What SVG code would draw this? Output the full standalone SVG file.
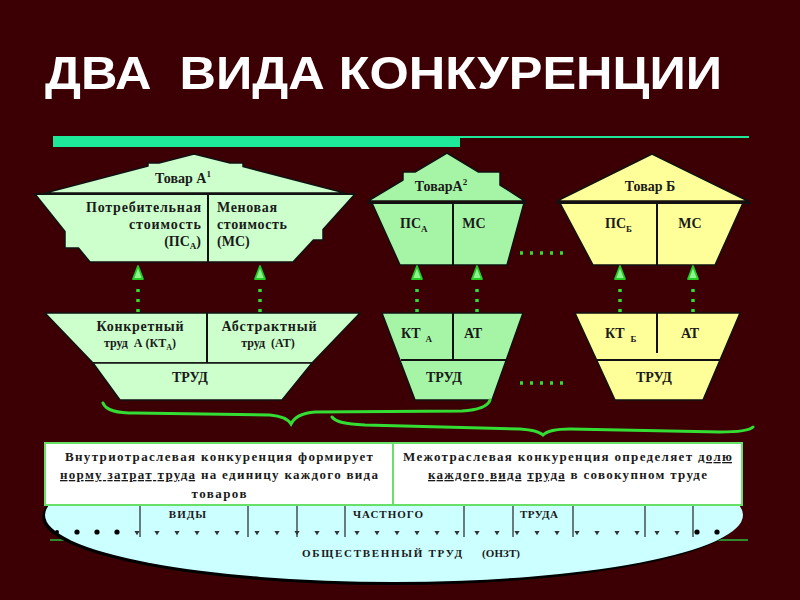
<svg xmlns="http://www.w3.org/2000/svg" xmlns:xlink="http://www.w3.org/1999/xlink" width="800" height="600" viewBox="0 0 800 600">
<style>
.t{font-family:"Liberation Serif","Times New Roman",serif;font-weight:bold;fill:#1a1a1a}
.s14{font-size:14px}.s13{font-size:13px}.s12{font-size:12px}.s11{font-size:11px}
.edge{stroke:#111;stroke-width:1.5;stroke-linejoin:round}
.g1{fill:#ccffcc}.g2{fill:#a6f5a6}.y1{fill:#ffff99}
.div{stroke:#111;stroke-width:2}
.dot{stroke:#33dd33;stroke-width:3.5;stroke-dasharray:3 7;fill:none}
.brace{stroke:#33dd33;stroke-width:3;fill:none;stroke-linecap:round}
.box{fill:#ffffff;stroke:#66e066;stroke-width:2}
.tick{stroke:#4d5b5b;stroke-width:1.6}
</style>
<defs>
<path id="ah" d="M-2.6,-2 L2.6,-2 L0,2.2 Z" fill="#333"/>
<path id="arr" d="M0,0 L5,13 L-5,13 Z" fill="#8ef58e" stroke="#22cc22" stroke-width="1.8" stroke-linejoin="round"/>
</defs>
<rect width="800" height="600" fill="#3c0004"/>

<g id="title">
<text x="45" y="89" font-family="Liberation Sans, Arial, sans-serif" font-weight="bold" font-size="46" fill="#ffffff" textLength="677" lengthAdjust="spacingAndGlyphs" xml:space="preserve">ДВА  ВИДА КОНКУРЕНЦИИ</text>
<rect x="53" y="136" width="407" height="11" fill="#1ee89a"/>
<line x1="460" y1="137" x2="749" y2="137" stroke="#1ee89a" stroke-width="2"/>
</g>

<g id="line-under-ellipse">
<line x1="50" y1="540" x2="748" y2="540" stroke="#2e8b2e" stroke-width="2"/>
</g>

<g id="node-tovarA1">
<polygon class="g1 edge" points="45,193 148,166 148,163 159,163 194,154 230,163 243,163 243,166.5 345,193"/>
<polygon class="g1 edge" points="35,194 355,194 323,229.6 323,240 313.4,240 293,262 90,262 78.5,248 65,248 65,231.5"/>
<line x1="35" y1="194" x2="355" y2="194" class="div"/>
<line x1="208" y1="194" x2="208" y2="262" class="div"/>
<text class="t s14" x="183" y="183" text-anchor="middle">Товар А<tspan font-size="9" dy="-6">1</tspan></text>
<text class="t s14" x="201" y="212" text-anchor="end" textLength="115">Потребительная</text>
<text class="t s14" x="201" y="229" text-anchor="end" textLength="72">стоимость</text>
<text class="t s14" x="201" y="246" text-anchor="end">(ПС<tspan font-size="9" dy="3">А</tspan><tspan dy="-3">)</tspan></text>
<text class="t s14" x="217" y="212" textLength="60">Меновая</text>
<text class="t s14" x="217" y="229" textLength="70">стоимость</text>
<text class="t s14" x="217" y="246">(МС)</text>
</g>

<g id="node-tovarA2">
<polygon class="g2 edge" points="368,201 403,180 403,172 415,172 447,153 478.5,172 500,172 500,185 525,201"/>
<polygon class="g2 edge" points="372,203 524,203 507,265 400,265"/>
<line x1="368" y1="203" x2="526" y2="203" class="div"/>
<line x1="453" y1="203" x2="453" y2="265" class="div"/>
<text class="t s14" x="441" y="191" text-anchor="middle">ТоварА<tspan font-size="9" dy="-6">2</tspan></text>
<text class="t s14" x="400" y="228">ПС<tspan font-size="9" dy="4">А</tspan></text>
<text class="t s14" x="474" y="228" text-anchor="middle">МС</text>
</g>

<g id="node-tovarB">
<polygon class="y1 edge" points="557,201 652,154 748,201"/>
<polygon class="y1 edge" points="560,203 743,203 715,265 593,265"/>
<line x1="557" y1="203" x2="752" y2="203" class="div"/>
<line x1="657" y1="203" x2="657" y2="265" class="div"/>
<text class="t s14" x="650" y="191" text-anchor="middle">Товар Б</text>
<text class="t s14" x="605" y="228">ПС<tspan font-size="9" dy="4">Б</tspan></text>
<text class="t s14" x="690" y="228" text-anchor="middle">МС</text>
</g>

<g id="node-trudA1">
<polygon class="g1 edge" points="45,313 360,313 312,363 93,363"/>
<polygon class="g1 edge" points="93,363 312,363 282,400 120,400"/>
<line x1="207" y1="313" x2="207" y2="363" class="div"/>
<text class="t s14" x="140" y="331" text-anchor="middle" textLength="87">Конкретный</text>
<text class="t s12" x="140" y="347" text-anchor="middle" xml:space="preserve">труд  А (КТ<tspan font-size="8" dy="3">А</tspan><tspan dy="-3">)</tspan></text>
<text class="t s14" x="269" y="331" text-anchor="middle" textLength="95">Абстрактный</text>
<text class="t s12" x="268" y="347" text-anchor="middle" xml:space="preserve">труд  (АТ)</text>
<text class="t s14" x="190" y="382" text-anchor="middle">ТРУД</text>
</g>

<g id="node-trudA2">
<polygon class="g2 edge" points="382,313 523,313 492,400 415,400"/>
<line x1="401" y1="360" x2="506" y2="360" class="div"/>
<line x1="453" y1="313" x2="453" y2="360" class="div"/>
<text class="t s14" x="401" y="338">КТ<tspan font-size="9" dx="5" dy="4">А</tspan></text>
<text class="t s14" x="473" y="338" text-anchor="middle">АТ</text>
<text class="t s14" x="444" y="382" text-anchor="middle">ТРУД</text>
</g>

<g id="node-trudB">
<polygon class="y1 edge" points="575,313 740,313 703,400 615,400"/>
<line x1="597" y1="360" x2="720" y2="360" class="div"/>
<line x1="657" y1="313" x2="657" y2="353" class="div"/>
<text class="t s14" x="605" y="338">КТ<tspan font-size="9" dx="6" dy="4">Б</tspan></text>
<text class="t s14" x="690" y="338" text-anchor="middle">АТ</text>
<text class="t s14" x="654" y="382" text-anchor="middle">ТРУД</text>
</g>

<g id="connectors">
<line class="dot" x1="138" y1="312" x2="138" y2="282"/>
<use xlink:href="#arr" x="138" y="266"/>
<line class="dot" x1="260" y1="312" x2="260" y2="282"/>
<use xlink:href="#arr" x="260" y="266"/>
<line class="dot" x1="417" y1="312" x2="417" y2="282"/>
<use xlink:href="#arr" x="417" y="266"/>
<line class="dot" x1="477" y1="312" x2="477" y2="282"/>
<use xlink:href="#arr" x="477" y="266"/>
<line class="dot" x1="620" y1="312" x2="620" y2="282"/>
<use xlink:href="#arr" x="620" y="266"/>
<line class="dot" x1="693" y1="312" x2="693" y2="282"/>
<use xlink:href="#arr" x="693" y="266"/>
<line class="dot" x1="520" y1="253" x2="566" y2="253" stroke-width="3.5"/>
<line class="dot" x1="520" y1="383" x2="566" y2="383" stroke-width="3.5"/>
<path class="brace" d="M103,403 C106,411 118,413 135,413 L270,415 C282,416 288,419 291,424 C294,418 300,413 315,412 L462,411 C478,410 488,406 490,400"/>
<path class="brace" d="M332,417 C336,422 345,424 365,425 L520,429 C533,430 540,432 543,435 C547,431 555,429 570,429 L720,432 C740,432 750,430 753,427"/>
</g>

<g id="ellipse-trud">
<ellipse cx="391" cy="517" rx="349" ry="68" fill="#000"/>
<ellipse cx="394" cy="515" rx="349" ry="67" fill="#ccffff"/>
<g class="tick">
<line x1="140" y1="505" x2="140" y2="537"/>
<line x1="248" y1="505" x2="248" y2="537"/>
<line x1="297" y1="505" x2="297" y2="537"/>
<line x1="345" y1="505" x2="345" y2="537"/>
<line x1="464" y1="505" x2="464" y2="537"/>
<line x1="513" y1="505" x2="513" y2="537"/>
<line x1="573" y1="505" x2="573" y2="537"/>
<line x1="645" y1="505" x2="645" y2="537"/>
<line x1="693" y1="505" x2="693" y2="537"/>
</g>
<g>
<use xlink:href="#ah" x="137" y="533"/><use xlink:href="#ah" x="157" y="533"/><use xlink:href="#ah" x="177" y="533"/><use xlink:href="#ah" x="197" y="533"/>
<use xlink:href="#ah" x="217" y="533"/><use xlink:href="#ah" x="237" y="533"/><use xlink:href="#ah" x="257" y="533"/><use xlink:href="#ah" x="277" y="533"/>
<use xlink:href="#ah" x="297" y="533"/><use xlink:href="#ah" x="317" y="533"/><use xlink:href="#ah" x="337" y="533"/><use xlink:href="#ah" x="357" y="533"/>
<use xlink:href="#ah" x="377" y="533"/><use xlink:href="#ah" x="397" y="533"/><use xlink:href="#ah" x="417" y="533"/><use xlink:href="#ah" x="437" y="533"/>
<use xlink:href="#ah" x="457" y="533"/><use xlink:href="#ah" x="477" y="533"/><use xlink:href="#ah" x="497" y="533"/><use xlink:href="#ah" x="517" y="533"/>
<use xlink:href="#ah" x="537" y="533"/><use xlink:href="#ah" x="557" y="533"/><use xlink:href="#ah" x="577" y="533"/><use xlink:href="#ah" x="597" y="533"/>
<use xlink:href="#ah" x="617" y="533"/><use xlink:href="#ah" x="637" y="533"/><use xlink:href="#ah" x="657" y="533"/><use xlink:href="#ah" x="677" y="533"/>
</g>
<g fill="#000">
<circle cx="57" cy="532" r="2"/><circle cx="77" cy="532" r="2.6"/><circle cx="97" cy="532" r="2.6"/><circle cx="117" cy="532" r="2.6"/>
<circle cx="697" cy="532" r="2.6"/><circle cx="717" cy="532" r="2.6"/>
</g>
<text class="t s11" x="188" y="518" text-anchor="middle" letter-spacing="1">ВИДЫ</text>
<text class="t s11" x="388" y="518" text-anchor="middle" textLength="70">ЧАСТНОГО</text>
<text class="t s11" x="539" y="518" text-anchor="middle" textLength="38">ТРУДА</text>
<text class="t s11" x="302" y="557" textLength="160">ОБЩЕСТВЕННЫЙ ТРУД</text>
<text class="t s11" x="482" y="557" textLength="38">(ОНЗТ)</text>
</g>

<g id="box-intra">
<rect class="box" x="45" y="443" width="348" height="62"/>
<text class="t s13" x="65" y="461" textLength="308">Внутриотраслевая конкуренция формирует</text>
<text class="t s13" x="60" y="479" textLength="318"><tspan text-decoration="underline">норму затрат труда</tspan> на единицу каждого вида</text>
<text class="t s13" x="219" y="498" text-anchor="middle" textLength="55">товаров</text>
</g>

<g id="box-inter">
<rect class="box" x="393" y="443" width="349" height="62"/>
<text class="t s13" x="403" y="461" textLength="329">Межотраслевая конкуренция определяет <tspan text-decoration="underline">долю</tspan></text>
<text class="t s13" x="428" y="479" textLength="279"><tspan text-decoration="underline">каждого вида</tspan> <tspan text-decoration="underline">труда</tspan> в совокупном труде</text>
</g>
</svg>
